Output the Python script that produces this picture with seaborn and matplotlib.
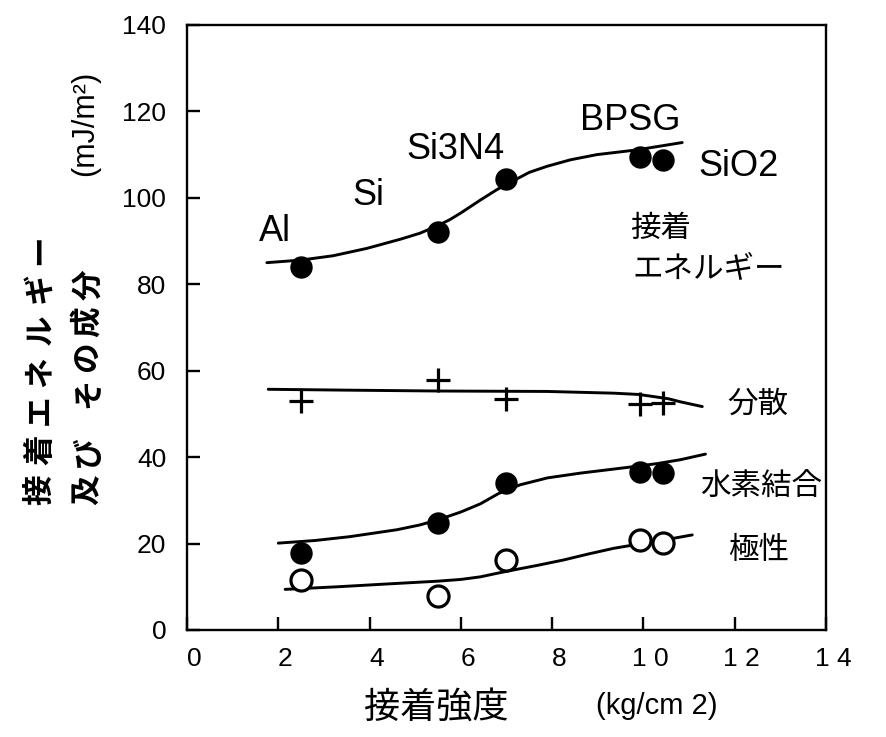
import matplotlib
matplotlib.use('Agg')
import matplotlib.pyplot as plt
import matplotlib.transforms as mtrans
import seaborn as sns
import pandas as pd

# measured points (x = adhesion strength kg/cm2)
x_pts = [2.5, 5.5, 7.0, 9.93, 10.42]
energy = [84.1, 92.2, 104.3, 109.4, 108.8]
dispersion = [53.1, 57.9, 53.5, 52.3, 52.6]
hbond = [17.9, 24.8, 34.0, 36.6, 36.3]
polar = [11.6, 7.9, 16.2, 20.8, 20.2]

# hand-drawn trend curves
energy_cx = [1.75, 2.5, 3.2, 3.94, 4.7, 5.1, 5.48, 5.75, 6.0, 6.43, 6.79, 7.16, 7.5, 7.89, 8.4, 8.98, 9.86, 10.85]
energy_cy = [85.0, 85.6, 86.6, 88.3, 90.5, 91.8, 93.5, 94.9, 96.5, 99.5, 101.9, 104.0, 105.9, 107.3, 108.8, 110.0, 111.1, 112.8]
disp_cx = [1.78, 3.5, 5.5, 7.89, 9.35, 9.9, 10.23, 10.55, 10.81, 11.29]
disp_cy = [55.7, 55.5, 55.3, 55.2, 54.8, 54.5, 54.0, 53.5, 52.8, 51.7]
hbond_cx = [2.0, 2.8, 3.57, 4.6, 5.1, 5.53, 6.0, 6.43, 6.83, 7.3, 7.9, 8.62, 9.71, 10.3, 10.81, 11.36]
hbond_cy = [20.1, 20.7, 21.6, 23.2, 24.3, 25.6, 27.3, 29.2, 31.6, 33.6, 35.2, 36.3, 37.7, 38.5, 39.4, 40.7]
polar_cx = [2.15, 3.3, 4.3, 5.5, 6.0, 6.43, 6.83, 7.16, 7.7, 8.25, 8.8, 9.35, 9.8, 10.23, 11.07]
polar_cy = [9.4, 10.0, 10.6, 11.3, 11.7, 12.3, 13.2, 13.9, 15.0, 16.2, 17.6, 18.9, 19.7, 20.4, 22.0]

xticks = [0, 2, 4, 6, 8, 10, 12, 14]
xtick_labels = ['0', '2', '4', '6', '8', '1 0', '1 2', '1 4']
yticks = [0, 20, 40, 60, 80, 100, 120, 140]

material_labels = ['Al', 'Si', 'Si3N4', 'BPSG', 'SiO2']
material_x = [1.93, 3.97, 5.88, 9.71, 12.08]
material_y = [92.1, 100.5, 111.3, 118.0, 107.2]

sns.set_style('ticks')
plt.rcParams['font.family'] = ['Liberation Sans', 'Noto Sans CJK JP']
plt.rcParams['axes.linewidth'] = 1.7
plt.rcParams['text.color'] = 'black'
JP = ['Noto Sans CJK JP']

fig = plt.figure(figsize=(8.87, 7.37), dpi=100)
ax = fig.add_axes([0.2108, 0.1452, 0.7204, 0.8209])

curves = [(energy_cx, energy_cy), (disp_cx, disp_cy), (hbond_cx, hbond_cy), (polar_cx, polar_cy)]
for cx, cy in curves:
    sns.lineplot(x=cx, y=cy, ax=ax, color='black', linewidth=2.1, sort=False)

pts = pd.DataFrame({'x': x_pts, 'energy': energy, 'disp': dispersion,
                    'hbond': hbond, 'polar': polar})
sns.scatterplot(data=pts, x='x', y='energy', ax=ax, color='black', s=260,
                edgecolor='black', linewidth=0, zorder=3)
sns.scatterplot(data=pts, x='x', y='hbond', ax=ax, color='black', s=260,
                edgecolor='black', linewidth=0, zorder=3)
sns.scatterplot(data=pts, x='x', y='polar', ax=ax, marker='o', s=230,
                facecolor='white', edgecolor='black', linewidth=2.3, zorder=3)
sns.scatterplot(data=pts, x='x', y='disp', ax=ax, marker='+', s=300,
                color='black', linewidth=2.3, zorder=3)

ax.set_xlim(0, 14)
ax.set_ylim(0, 140)
ax.set_xticks(xticks)
ax.set_xticklabels(xtick_labels)
ax.set_yticks(yticks)
ax.tick_params(direction='in', length=9.5, width=1.7, labelsize=19,
               color='black', labelcolor='black')
ax.tick_params(axis='y', pad=15)
ax.tick_params(axis='x', pad=12)
for sp in ax.spines.values():
    sp.set_visible(True)
    sp.set_color('black')
ax.set_xlabel('')
ax.set_ylabel('')
shift = mtrans.ScaledTranslation(7 / 100, 0, fig.dpi_scale_trans)
for lab in ax.get_xticklabels():
    lab.set_transform(lab.get_transform() + shift)

for lab, tx, ty in zip(material_labels, material_x, material_y):
    ax.text(tx, ty, lab, fontsize=26, ha='center', va='center')

ax.text(9.71, 93.0, '接着', fontsize=22, family=JP, ha='left', va='center')
ax.text(9.76, 83.6, 'エネルギー', fontsize=22, family=JP, ha='left', va='center')
ax.text(11.84, 52.3, '分散', fontsize=22, family=JP, ha='left', va='center')
ax.text(11.25, 33.1, '水素結合', fontsize=22, family=JP, ha='left', va='center')
ax.text(11.86, 18.5, '極性', fontsize=22, family=JP, ha='left', va='center')

W, H = 887, 737
# y-axis title, two vertical columns with loose character spacing
col1 = [('接', 490), ('着', 450), ('エ', 410), ('ネ', 372), ('ル', 330), ('ギ', 288), ('ー', 250)]
col2 = [('及', 490), ('び', 452), ('そ', 393), ('の', 357), ('成', 322), ('分', 285)]
for ch, py in col1:
    fig.text(40 / W, 1 - py / H, ch, fontsize=22, family=JP, rotation=90,
             ha='center', va='center', fontweight='bold')
for ch, py in col2:
    fig.text(88 / W, 1 - py / H, ch, fontsize=22, family=JP, rotation=90,
             ha='center', va='center', fontweight='bold')
fig.text(85 / W, 1 - 123 / H, '(mJ/m²)', fontsize=22, rotation=90,
         ha='center', va='center')

fig.text(436 / W, 1 - 708 / H, '接着強度', fontsize=26, family=JP,
         ha='center', va='center')
fig.text(657 / W, 1 - 706 / H, '(kg/cm 2)', fontsize=21,
         ha='center', va='center')

fig.savefig('out.png', dpi=100)
